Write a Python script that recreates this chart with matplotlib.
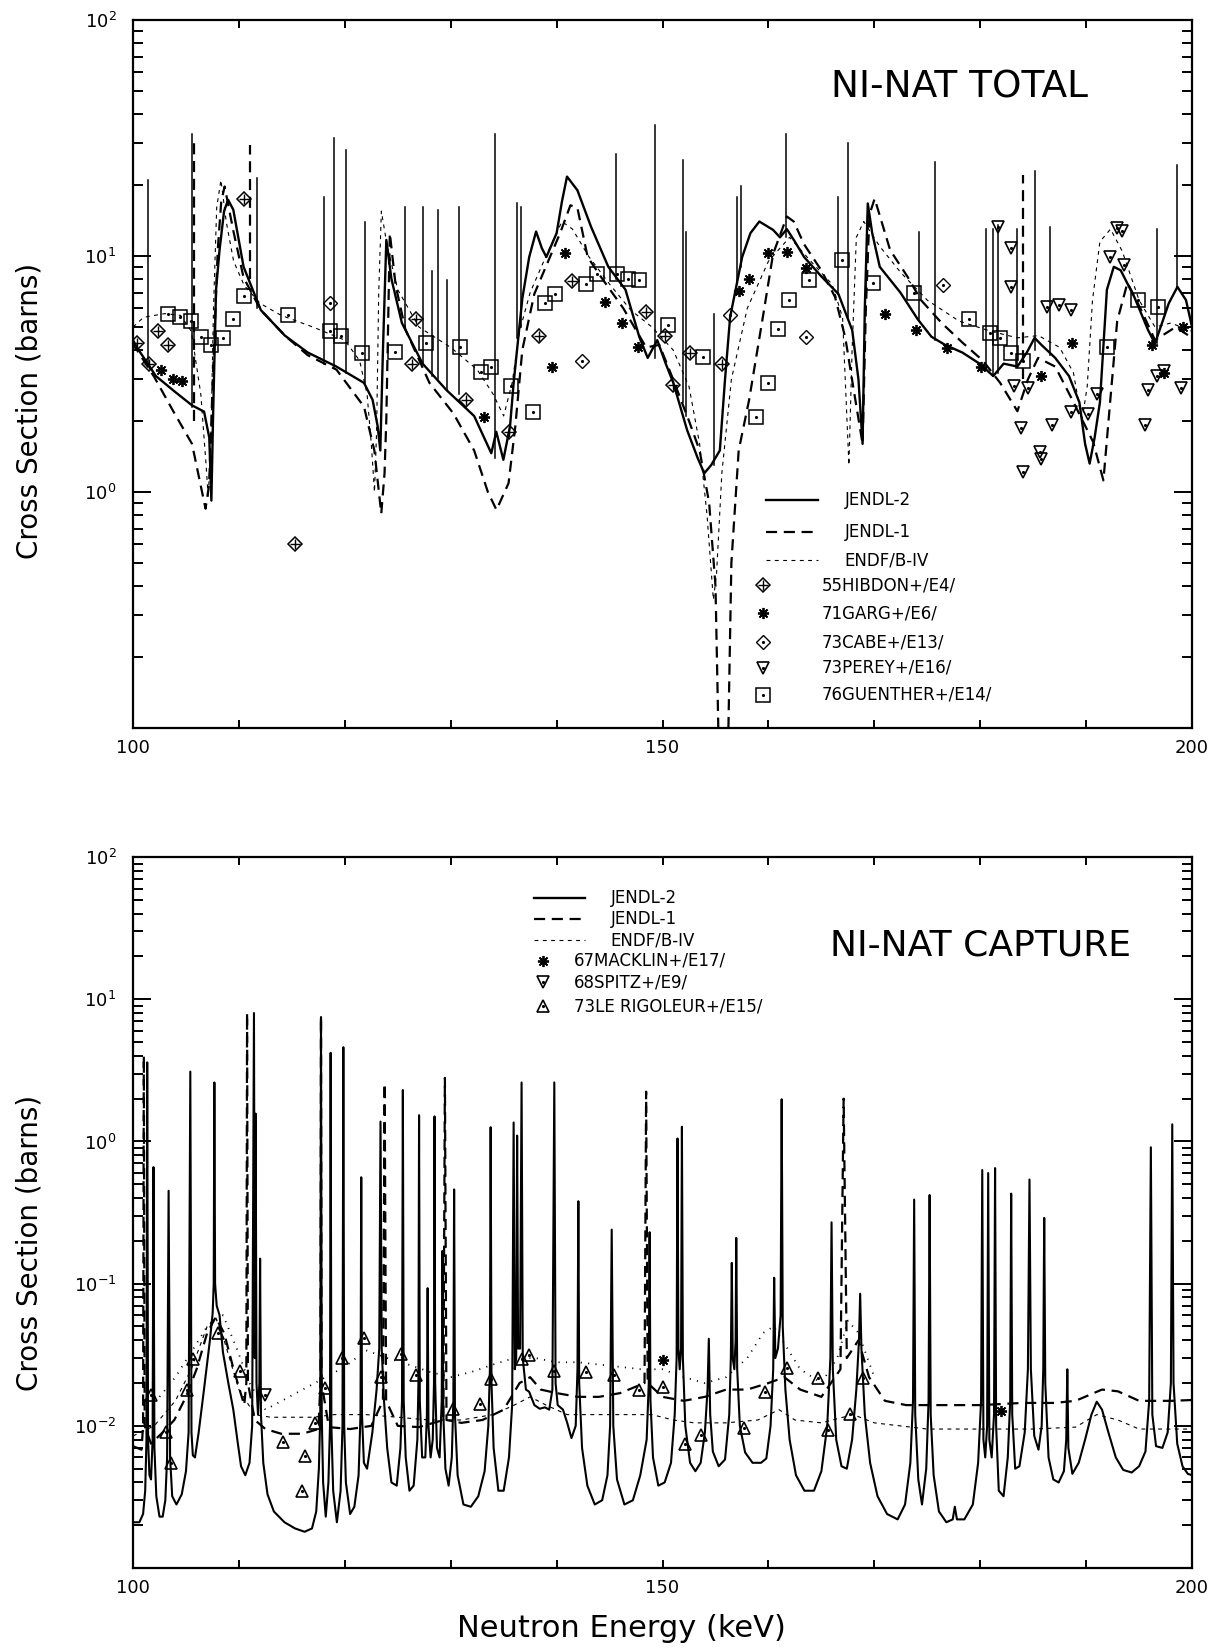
import matplotlib
matplotlib.use("Agg")
import matplotlib.pyplot as plt
import numpy as np
from matplotlib.ticker import FixedLocator, FuncFormatter, LogLocator, NullFormatter

plt.rcParams["font.family"] = ["DejaVu Sans"]

# ---------------- Ni-nat total cross section (barns) ----------------
total_jendl2 = [
    (100.0, 4.4), (100.37, 4.1), (102.16, 3.1), (104.0, 2.65), (105.57, 2.33), (106.71, 2.19),
    (107.2, 1.7), (107.4, 0.92), (107.55, 2.0), (107.84, 7.2), (108.17, 10.6), (108.6, 15.5),
    (108.98, 17.3), (109.47, 15.7), (110.44, 9.0), (112.07, 5.9), (114.34, 4.6), (116.5, 3.9),
    (119.21, 3.4), (121.81, 2.9), (122.62, 2.46), (123.1, 1.9), (123.35, 1.5), (123.6, 4.0),
    (123.92, 11.7), (124.4, 8.0), (125.39, 5.2), (127.34, 3.5), (129.61, 2.7), (132.21, 2.1),
    (133.83, 1.46), (134.3, 1.8), (134.97, 1.37), (135.6, 1.9), (135.94, 2.9), (136.76, 6.6),
    (137.41, 9.9), (138.06, 12.7), (138.6, 10.8), (139.03, 9.9), (140.0, 12.5), (140.5, 17.0),
    (140.98, 21.7), (141.96, 19.0), (143.25, 13.3), (144.88, 9.0), (146.5, 7.2), (147.8, 4.55),
    (148.6, 3.7), (149.5, 4.4), (150.3, 3.5), (151.02, 2.9), (152.32, 1.83), (153.3, 1.4),
    (153.94, 1.2), (154.59, 1.3), (155.41, 1.5), (155.9, 3.0), (156.38, 5.5), (157.03, 7.7),
    (157.52, 9.9), (158.3, 12.5), (159.14, 14.0), (160.44, 12.9), (161.09, 12.0), (161.74, 13.0),
    (162.5, 11.5), (163.37, 9.9), (164.99, 8.2), (166.61, 6.9), (167.91, 4.85), (168.5, 3.0),
    (168.89, 1.6), (169.1, 6.0), (169.38, 16.7), (169.8, 12.5), (170.51, 9.0), (172.46, 7.0),
    (174.09, 5.4), (175.39, 4.55), (176.69, 4.2), (178.31, 3.9), (179.93, 3.5), (181.23, 3.1),
    (182.21, 3.5), (183.51, 3.4), (184.4, 3.9), (185.13, 4.5), (185.78, 4.2), (187.08, 3.7),
    (188.38, 3.1), (189.36, 2.4), (189.9, 1.6), (190.33, 1.32), (190.8, 1.7), (191.3, 2.4),
    (191.96, 7.2), (192.61, 9.0), (193.26, 8.7), (194.55, 6.7), (195.85, 4.85), (196.5, 4.26),
    (197.8, 6.3), (198.62, 7.4), (199.43, 6.5), (200.0, 5.0),
]
# narrow JENDL-2 resonances: energy, foot, top
total_jendl2_spikes = [
    (101.4, 3.4, 21.0), (105.6, 2.3, 33.0), (111.7, 6.0, 21.4), (118.08, 3.5, 17.8),
    (118.95, 3.4, 31.6), (120.12, 3.2, 28.0), (121.91, 2.9, 14.0), (125.71, 4.9, 16.2),
    (127.4, 3.5, 16.2), (128.25, 3.1, 8.6), (128.8, 3.0, 15.7), (129.61, 2.7, 7.9),
    (130.75, 2.6, 16.2), (134.16, 1.4, 33.0), (136.27, 4.5, 16.7), (136.6, 5.0, 16.2),
    (145.6, 8.0, 27.0), (149.27, 3.7, 36.0), (151.9, 2.4, 25.5), (152.22, 2.1, 12.7),
    (154.85, 1.3, 5.7), (157.03, 7.7, 17.8), (157.45, 9.0, 19.8), (161.68, 12.0, 33.0),
    (166.55, 6.9, 17.8), (167.52, 5.5, 30.0), (174.25, 5.4, 12.7), (175.71, 4.4, 25.0),
    (180.58, 3.3, 13.0), (181.17, 3.1, 13.0), (181.72, 3.2, 13.5), (183.51, 3.4, 13.0),
    (185.13, 4.0, 23.0), (186.6, 3.8, 13.3), (196.67, 4.3, 13.0), (198.62, 7.4, 24.4),
]
total_jendl1 = [
    (100.0, 4.3), (100.37, 4.0), (101.99, 3.08), (103.8, 2.2), (105.57, 1.6), (106.54, 0.99),
    (106.85, 0.85), (107.19, 1.08), (107.52, 2.9), (108.0, 10.6), (108.33, 17.0), (108.65, 19.7),
    (109.47, 12.8), (110.44, 8.1), (112.07, 5.9), (114.34, 4.6), (116.5, 3.8), (119.21, 3.3),
    (121.81, 2.3), (122.79, 1.5), (123.44, 0.81), (123.75, 1.2), (123.92, 2.05), (124.25, 12.5),
    (124.8, 7.5), (125.71, 4.9), (127.99, 2.9), (130.26, 2.15), (132.21, 1.5), (133.51, 1.0),
    (134.32, 0.84), (135.46, 1.09), (136.1, 1.9), (136.76, 4.0), (137.89, 6.9), (139.2, 9.5),
    (140.33, 12.5), (141.3, 16.4), (141.96, 16.0), (142.93, 9.9), (144.23, 8.1), (146.3, 6.0),
    (148.45, 4.1), (149.7, 4.2), (151.0, 3.0), (152.5, 2.0), (153.5, 1.5), (154.4, 0.9),
    (155.0, 0.4), (155.4, 0.05), (156.1, 0.05), (156.5, 0.5), (157.19, 1.5), (158.17, 2.45),
    (159.47, 5.5), (160.44, 10.2), (161.74, 14.7), (162.39, 14.0), (163.37, 11.2), (164.99, 8.7),
    (166.29, 6.7), (167.26, 4.5), (168.0, 2.8), (168.89, 1.6), (169.2, 6.0), (169.54, 15.0),
    (170.03, 17.5), (171.49, 10.6), (173.11, 8.2), (174.41, 6.5), (176.36, 5.2), (178.31, 4.3),
    (180.26, 3.6), (181.88, 2.9), (183.51, 2.2), (184.5, 3.0), (185.46, 3.7), (187.08, 3.4),
    (188.71, 2.45), (190.66, 1.63), (191.63, 1.12), (192.28, 2.45), (192.93, 5.3), (193.9, 7.7),
    (195.2, 5.9), (196.5, 4.4), (198.45, 5.0), (200.0, 4.5),
]
total_jendl1_spikes = [(105.73, 2.0, 30.0), (111.09, 8.0, 29.5), (184.0, 3.0, 22.0)]
total_endf = [
    (100.0, 5.0), (101.0, 5.5), (103.0, 5.7), (104.5, 5.6), (105.5, 4.8), (106.4, 2.6),
    (106.9, 1.3), (107.1, 0.95), (107.35, 1.6), (107.6, 6.0), (107.9, 16.0), (108.3, 21.0),
    (108.8, 14.0), (109.5, 9.5), (110.5, 7.5), (112.0, 6.3), (114.0, 5.6), (117.0, 5.0),
    (120.0, 4.4), (121.4, 3.6), (122.1, 2.6), (122.5, 1.6), (122.8, 1.0), (123.0, 1.8),
    (123.2, 7.0), (123.45, 15.5), (124.0, 11.0), (125.0, 7.2), (127.0, 5.0), (130.0, 4.1),
    (132.5, 3.3), (134.0, 2.6), (135.0, 2.1), (135.8, 2.9), (136.5, 4.8), (137.5, 7.0),
    (139.0, 10.0), (140.5, 14.0), (141.5, 13.0), (143.0, 10.0), (145.0, 7.6), (147.0, 5.9),
    (149.0, 5.0), (151.0, 4.0), (152.5, 2.8), (153.5, 1.6), (154.2, 0.8), (154.8, 0.35),
    (155.1, 0.45), (155.6, 1.2), (156.5, 3.0), (158.0, 6.0), (160.0, 9.5), (162.0, 12.0),
    (164.0, 9.5), (166.0, 7.6), (167.0, 5.5), (167.6, 1.3), (167.9, 4.0), (168.3, 12.0),
    (169.0, 14.0), (170.5, 11.0), (172.5, 8.5), (175.0, 6.5), (178.0, 5.3), (181.0, 4.8),
    (183.5, 4.5), (185.5, 4.6), (187.5, 4.1), (188.8, 3.2), (189.6, 2.0), (190.1, 2.8),
    (190.6, 6.5), (191.3, 11.5), (192.3, 13.0), (193.4, 10.5), (195.0, 6.5), (196.5, 5.0),
    (198.0, 5.2), (200.0, 4.8),
]
hibdon55 = [
    (100.37, 4.3), (101.51, 3.5), (102.32, 4.8), (103.29, 4.2), (110.44, 17.4), (115.31, 0.6),
    (126.36, 3.5), (126.69, 5.4), (131.4, 2.45), (135.46, 1.8), (138.38, 4.6), (141.47, 7.8),
    (148.45, 5.8), (150.24, 4.6), (151.02, 2.84), (152.64, 3.9), (155.57, 3.5),
]
garg71 = [
    (102.64, 3.3), (103.78, 3.0), (104.59, 2.96), (133.18, 2.08), (139.52, 3.4), (140.82, 10.3),
    (144.55, 6.4), (146.18, 5.2), (147.64, 4.1), (157.19, 7.1), (158.17, 8.0), (159.95, 10.3),
    (161.74, 10.4), (163.53, 8.9), (171.0, 5.7), (173.92, 4.86), (176.85, 4.06), (180.1, 3.4),
    (185.78, 3.1), (188.71, 4.3), (196.18, 4.2), (197.32, 3.2), (199.1, 5.0),
]
cabe73 = [(118.6, 6.3), (142.44, 3.6), (156.38, 5.6), (163.53, 4.55), (176.52, 7.5)]
perey73 = [
    (181.72, 13.3), (182.86, 10.8), (182.86, 7.4), (183.18, 2.8), (184.48, 2.76), (183.83, 1.86),
    (184.0, 1.22), (185.62, 1.48), (185.78, 1.38), (186.76, 1.92), (186.27, 6.1), (187.41, 6.2),
    (188.54, 5.9), (188.54, 2.19), (190.17, 2.15), (190.98, 2.6), (192.28, 9.9), (192.93, 13.1),
    (193.42, 12.8), (193.58, 9.2), (195.53, 1.92), (195.85, 2.7), (196.67, 3.1), (197.32, 3.25),
    (198.94, 2.75),
]
guenther76 = [
    (103.29, 5.7), (104.43, 5.5), (105.5, 5.3), (106.38, 4.55), (107.35, 4.2), (108.49, 4.5),
    (109.47, 5.4), (110.44, 6.8), (114.66, 5.6), (118.56, 4.8), (119.6, 4.6), (121.65, 3.9),
    (124.74, 3.93), (127.66, 4.3), (130.91, 4.1), (132.86, 3.24), (133.83, 3.4), (135.72, 2.8),
    (137.73, 2.19), (138.87, 6.3), (139.84, 6.9), (142.77, 7.6), (143.84, 8.4), (145.69, 8.4),
    (146.76, 8.0), (147.8, 7.9), (150.56, 5.1), (153.78, 3.74), (158.82, 2.08), (159.95, 2.9),
    (160.93, 4.9), (161.9, 6.5), (163.85, 7.9), (166.94, 9.6), (169.86, 7.7), (173.76, 7.0),
    (178.96, 5.4), (180.91, 4.7), (181.88, 4.5), (182.86, 3.9), (184.0, 3.6), (191.96, 4.1),
    (194.88, 6.5), (196.83, 6.1),
]

# ---------------- Ni-nat capture cross section (barns) ----------------
capture_jendl2 = [
    (100.0, 0.0021), (100.6, 0.0021), (100.95, 0.0024), (101.15, 0.0035), (101.27, 0.008), (101.34, 3.6),
    (101.42, 0.008), (101.55, 0.0045), (101.7, 0.0042), (101.85, 0.008), (101.93, 0.66), (102.02, 0.007),
    (102.2, 0.0032), (102.5, 0.0023), (102.8, 0.0023), (103.05, 0.003), (103.22, 0.006), (103.36, 0.45),
    (103.5, 0.006), (103.7, 0.0032), (104.1, 0.0028), (104.6, 0.0033), (105.0, 0.0048), (105.25, 0.009),
    (105.41, 3.1), (105.52, 0.009), (105.65, 0.0062), (105.85, 0.006), (106.2, 0.009), (106.7, 0.018),
    (107.26, 0.04), (107.52, 0.062), (107.62, 0.1), (107.68, 2.6), (107.75, 0.1), (107.9, 0.07),
    (108.17, 0.06), (108.49, 0.033), (109.0, 0.02), (109.47, 0.013), (109.9, 0.0075), (110.2, 0.0052),
    (110.6, 0.0045), (111.0, 0.0055), (111.25, 0.01), (111.42, 8.0), (111.5, 0.03), (111.58, 1.57),
    (111.66, 0.02), (111.8, 0.012), (111.93, 0.02), (112.0, 0.15), (112.08, 0.012), (112.3, 0.0055),
    (112.7, 0.0033), (113.3, 0.0025), (114.3, 0.0021), (115.3, 0.0019), (116.2, 0.0018), (116.9, 0.0019),
    (117.3, 0.0025), (117.55, 0.005), (117.68, 0.012), (117.75, 7.5), (117.82, 0.012), (117.95, 0.004),
    (118.2, 0.0023), (118.45, 0.004), (118.6, 0.01), (118.66, 4.2), (118.73, 0.01), (118.9, 0.0035),
    (119.25, 0.0021), (119.6, 0.0035), (119.78, 0.01), (119.86, 4.6), (119.94, 0.01), (120.1, 0.004),
    (120.5, 0.0024), (120.9, 0.0027), (121.3, 0.0045), (121.48, 0.012), (121.55, 0.56), (121.62, 0.012),
    (121.8, 0.0055), (122.1, 0.005), (122.6, 0.009), (123.0, 0.018), (123.25, 0.035), (123.37, 1.38),
    (123.48, 0.035), (123.7, 0.015), (124.0, 0.007), (124.4, 0.004), (124.9, 0.0038), (125.25, 0.007),
    (125.4, 0.015), (125.48, 2.3), (125.56, 0.015), (125.75, 0.006), (126.1, 0.0035), (126.5, 0.0038),
    (126.85, 0.008), (126.95, 0.02), (127.01, 1.53), (127.08, 0.015), (127.3, 0.006), (127.6, 0.006),
    (127.75, 0.012), (127.82, 0.093), (127.9, 0.01), (128.1, 0.006), (128.3, 0.008), (128.42, 0.02),
    (128.47, 1.5), (128.53, 0.02), (128.7, 0.007), (128.95, 0.006), (129.15, 0.015), (129.22, 0.17),
    (129.3, 0.012), (129.5, 0.005), (129.8, 0.0038), (130.1, 0.006), (130.25, 0.015), (130.32, 0.46),
    (130.4, 0.012), (130.65, 0.0045), (131.2, 0.0028), (131.9, 0.0027), (132.6, 0.0032), (133.2, 0.0048),
    (133.55, 0.01), (133.7, 0.025), (133.77, 1.26), (133.85, 0.02), (134.05, 0.007), (134.5, 0.0035),
    (135.0, 0.0035), (135.5, 0.006), (135.8, 0.014), (135.94, 1.36), (136.05, 0.025), (136.18, 0.03),
    (136.27, 1.1), (136.36, 0.035), (136.55, 0.035), (136.69, 2.6), (136.8, 0.03), (137.1, 0.018),
    (137.4, 0.0174), (137.9, 0.014), (138.4, 0.0132), (138.9, 0.0135), (139.3, 0.013), (139.6, 0.018),
    (139.78, 2.6), (139.9, 0.02), (140.1, 0.014), (140.6, 0.013), (141.0, 0.0105), (141.4, 0.0082),
    (141.8, 0.01), (141.97, 0.025), (142.05, 0.38), (142.13, 0.02), (142.4, 0.007), (142.9, 0.0038),
    (143.6, 0.0028), (144.3, 0.003), (144.8, 0.0045), (145.05, 0.01), (145.2, 0.24), (145.35, 0.01),
    (145.7, 0.0042), (146.4, 0.0028), (147.2, 0.003), (147.9, 0.0045), (148.5, 0.008), (148.7, 0.02),
    (148.78, 0.23), (148.86, 0.015), (149.1, 0.006), (149.6, 0.0038), (150.2, 0.004), (150.8, 0.0055),
    (151.15, 0.012), (151.33, 0.03), (151.41, 1.05), (151.5, 0.035), (151.62, 0.025), (151.75, 0.035),
    (151.83, 1.27), (151.92, 0.03), (152.15, 0.01), (152.6, 0.0055), (153.1, 0.0048), (153.6, 0.0055),
    (154.0, 0.009), (154.25, 0.018), (154.37, 0.041), (154.5, 0.012), (154.75, 0.0066), (155.3, 0.0052),
    (155.9, 0.0058), (156.3, 0.012), (156.45, 0.03), (156.54, 0.14), (156.63, 0.03), (156.78, 0.025),
    (156.9, 0.04), (156.96, 0.21), (157.05, 0.025), (157.3, 0.01), (157.8, 0.0065), (158.5, 0.0055),
    (159.3, 0.0055), (159.8, 0.0059), (160.2, 0.01), (160.45, 0.025), (160.54, 0.11), (160.65, 0.03),
    (160.9, 0.035), (161.15, 0.06), (161.25, 1.98), (161.35, 0.05), (161.6, 0.018), (162.0, 0.008),
    (162.6, 0.0045), (163.4, 0.0035), (164.3, 0.0035), (165.0, 0.0048), (165.55, 0.01), (165.85, 0.03),
    (165.96, 0.27), (166.08, 0.025), (166.4, 0.008), (166.9, 0.0052), (167.4, 0.005), (167.9, 0.008),
    (168.3, 0.018), (168.55, 0.04), (168.66, 0.085), (168.78, 0.035), (169.1, 0.012), (169.6, 0.0055),
    (170.3, 0.0032), (171.2, 0.0024), (172.2, 0.0022), (172.9, 0.0028), (173.4, 0.0055), (173.65, 0.015),
    (173.76, 0.39), (173.86, 0.012), (174.15, 0.0042), (174.5, 0.0028), (174.9, 0.005), (175.12, 0.015),
    (175.22, 0.42), (175.32, 0.012), (175.6, 0.0045), (176.1, 0.0025), (176.8, 0.0021), (177.4, 0.0022),
    (177.6, 0.0027), (177.8, 0.0022), (178.5, 0.0022), (179.3, 0.0028), (179.8, 0.0055), (180.08, 0.015),
    (180.19, 0.63), (180.3, 0.008), (180.47, 0.006), (180.65, 0.01), (180.75, 0.6), (180.86, 0.008),
    (181.08, 0.006), (181.3, 0.012), (181.4, 0.65), (181.5, 0.01), (181.75, 0.0035), (182.2, 0.0032),
    (182.6, 0.006), (182.83, 0.015), (182.92, 0.43), (183.02, 0.012), (183.3, 0.005), (183.7, 0.0052),
    (184.2, 0.009), (184.5, 0.025), (184.65, 0.54), (184.78, 0.025), (185.1, 0.0085), (185.5, 0.0068),
    (185.8, 0.01), (185.95, 0.025), (186.04, 0.29), (186.14, 0.02), (186.45, 0.006), (186.9, 0.0042),
    (187.4, 0.004), (187.9, 0.0048), (188.12, 0.008), (188.22, 0.025), (188.32, 0.007), (188.7, 0.0046),
    (189.3, 0.0055), (189.9, 0.008), (190.5, 0.012), (191.0, 0.0148), (191.5, 0.013), (192.1, 0.009),
    (192.8, 0.006), (193.5, 0.0049), (194.3, 0.0047), (195.0, 0.0052), (195.6, 0.0066), (195.95, 0.015),
    (196.11, 0.91), (196.25, 0.012), (196.6, 0.0072), (197.2, 0.007), (197.7, 0.009), (198.0, 0.02),
    (198.13, 1.32), (198.25, 0.02), (198.6, 0.0075), (199.1, 0.0052), (199.6, 0.0046), (200.0, 0.0045),
]
capture_jendl1 = [
    (100.0, 0.0072), (100.8, 0.0068), (100.95, 0.01), (101.02, 4.0), (101.1, 0.01), (101.7, 0.0075),
    (102.8, 0.009), (103.9, 0.011), (105.0, 0.016), (106.0, 0.025), (107.0, 0.045), (107.8, 0.058),
    (108.6, 0.045), (109.5, 0.025), (110.5, 0.014), (110.7, 0.02), (110.77, 8.0), (110.85, 0.02),
    (111.5, 0.011), (112.5, 0.0095), (114.0, 0.0088), (116.0, 0.0088), (117.5, 0.0095), (117.7, 0.02),
    (117.75, 7.5), (117.8, 0.02), (118.5, 0.0098), (120.5, 0.0095), (122.5, 0.01), (123.6, 0.015),
    (123.76, 2.56), (123.9, 0.015), (125.0, 0.01), (127.0, 0.0098), (129.3, 0.011), (129.45, 2.8),
    (129.6, 0.011), (131.0, 0.0105), (133.0, 0.011), (135.0, 0.013), (136.5, 0.02), (137.5, 0.022),
    (138.5, 0.018), (140.0, 0.017), (142.0, 0.016), (144.0, 0.016), (146.0, 0.017), (148.3, 0.02),
    (148.45, 2.24), (148.6, 0.02), (150.0, 0.016), (152.0, 0.015), (154.0, 0.016), (156.0, 0.018),
    (158.0, 0.018), (160.0, 0.02), (161.5, 0.022), (163.0, 0.018), (165.0, 0.016), (166.8, 0.025),
    (167.1, 2.0), (167.4, 0.03), (168.5, 0.04), (169.5, 0.022), (171.0, 0.015), (173.0, 0.014),
    (176.0, 0.014), (180.0, 0.014), (184.0, 0.0145), (187.0, 0.0145), (189.0, 0.015), (191.5, 0.018),
    (193.0, 0.0175), (195.0, 0.015), (198.0, 0.015), (200.0, 0.0152),
]
capture_endf = [
    (100.0, 0.0085), (102.0, 0.01), (104.0, 0.015), (105.5, 0.025), (107.0, 0.05), (107.8, 0.058),
    (108.6, 0.04), (110.0, 0.018), (111.5, 0.012), (113.0, 0.0115), (117.0, 0.0115), (119.0, 0.012),
    (122.0, 0.012), (125.0, 0.0115), (128.0, 0.011), (131.0, 0.011), (134.0, 0.012), (136.0, 0.014),
    (137.5, 0.016), (139.0, 0.014), (141.0, 0.012), (145.0, 0.012), (149.0, 0.012), (151.0, 0.011),
    (153.0, 0.0105), (156.0, 0.0105), (159.0, 0.011), (161.0, 0.013), (162.5, 0.011), (165.0, 0.0105),
    (168.0, 0.012), (170.0, 0.0105), (175.0, 0.0095), (180.0, 0.0095), (185.0, 0.0095), (189.0, 0.0098),
    (191.0, 0.012), (193.0, 0.011), (195.0, 0.0095), (200.0, 0.0095),
]
# finely dotted trace running above the evaluations
capture_dotted = [
    (102.5, 0.016), (104.0, 0.022), (105.5, 0.033), (107.0, 0.05), (108.5, 0.06), (109.8, 0.035),
    (111.0, 0.02), (112.5, 0.013), (120.0, 0.026), (122.0, 0.034), (124.0, 0.03), (126.0, 0.027),
    (128.0, 0.024), (130.0, 0.022), (132.0, 0.024), (134.0, 0.027), (136.0, 0.03), (138.0, 0.03),
    (140.0, 0.028), (142.0, 0.028), (144.0, 0.027), (146.0, 0.026), (148.0, 0.025), (150.0, 0.025),
    (152.0, 0.022), (154.0, 0.02), (156.0, 0.022), (158.0, 0.03), (159.5, 0.045), (160.5, 0.05),
    (161.5, 0.038), (163.0, 0.025), (165.0, 0.02), (166.5, 0.03), (167.5, 0.055), (168.5, 0.045),
    (170.0, 0.022),
]
macklin67 = [(150.06, 0.029), (182.0, 0.0127)]
spitz68 = [(112.5, 0.0164)]
lerigoleur73 = [
    (101.67, 0.0164), (103.13, 0.009), (103.62, 0.0055), (105.08, 0.0179), (105.63, 0.0293),
    (108.0, 0.045), (110.12, 0.0244), (114.18, 0.0077), (116.0, 0.0035), (116.22, 0.0061),
    (117.2, 0.0104), (118.17, 0.0184), (119.7, 0.0298), (121.81, 0.0412), (123.44, 0.0221),
    (125.32, 0.0318), (126.68, 0.0228), (130.26, 0.0131), (132.79, 0.0142), (133.77, 0.0212),
    (136.76, 0.0295), (137.41, 0.0315), (139.78, 0.0243), (142.77, 0.024), (145.37, 0.0228),
    (147.74, 0.018), (150.08, 0.0188), (152.16, 0.0075), (153.62, 0.0086), (157.68, 0.0096),
    (159.63, 0.0174), (161.74, 0.0254), (164.66, 0.0216), (165.64, 0.0093), (167.69, 0.0122),
    (168.89, 0.0216),
]

x_major = [100, 150, 200]
x_minor = [110, 120, 130, 140, 160, 170, 180, 190]

fig = plt.figure(figsize=(12.17, 16.52), dpi=100)
ax1 = fig.add_axes([0.1093, 0.5593, 0.8702, 0.4286])
ax2 = fig.add_axes([0.1093, 0.0508, 0.8702, 0.4304])

S_J2 = dict(color="black", lw=1.7, ls="-")
S_J1 = dict(color="black", lw=1.6, ls=(0, (5.0, 3.0)))
S_EN = dict(color="black", lw=0.8, ls=(0, (3.5, 4.0)))
S_DOT = dict(color="black", lw=1.3, ls=(0, (0.6, 3.5)))


def xy(pairs):
    a = np.array(pairs, dtype=float)
    return a[:, 0], a[:, 1]


def draw_spikes(ax, spikes, style):
    for e, lo, hi in spikes:
        ax.plot([e, e], [lo, hi], **style)


def marker_layers(kind, size):
    """Matplotlib marker layers that build each experimental symbol."""
    dot = dict(marker=".", ms=2.5, color="k")
    if kind == "hibdon":
        return [dict(marker="D", ms=size, mfc="none", mec="k", mew=1.1),
                dict(marker="+", ms=size, mec="k", mew=1.0)]
    if kind == "star":
        return [dict(marker=(8, 2, 0), ms=size + 1, mec="k", mew=1.3)]
    if kind == "cabe":
        return [dict(marker="D", ms=size, mfc="none", mec="k", mew=1.0), dot]
    if kind == "down":
        return [dict(marker="v", ms=size + 1, mfc="none", mec="k", mew=1.2), dot]
    if kind == "up":
        return [dict(marker="^", ms=size + 1, mfc="none", mec="k", mew=1.2), dot]
    return [dict(marker="s", ms=size + 3, mfc="none", mec="k", mew=1.1), dot]


def draw_points(ax, pairs, kind, size=7):
    e, s = xy(pairs)
    for layer in marker_layers(kind, size):
        ax.plot(e, s, ls="none", **layer)


def legend_marker(ax, x, y, kind, size=7):
    for layer in marker_layers(kind, size):
        ax.plot([x], [y], ls="none", transform=ax.transAxes, clip_on=False, **layer)


def legend_line(ax, x0, x1, y, style):
    ax.plot([x0, x1], [y, y], transform=ax.transAxes, clip_on=False, **style)


def style_axes(ax, ymin, ymax, labelled):
    ax.set_yscale("log")
    ax.set_xlim(100, 200)
    ax.set_ylim(ymin, ymax)
    ax.xaxis.set_major_locator(FixedLocator(x_major))
    ax.xaxis.set_minor_locator(FixedLocator(x_minor))
    ax.xaxis.set_minor_formatter(NullFormatter())
    ax.xaxis.set_major_formatter(FuncFormatter(lambda v, p: "%d" % v))
    decades = [10.0 ** k for k in range(int(np.log10(ymin)), int(np.log10(ymax)) + 1)]
    ax.yaxis.set_major_locator(FixedLocator(decades))
    ax.yaxis.set_major_formatter(FuncFormatter(
        lambda v, p: (r"$10^{%d}$" % round(np.log10(v))) if round(np.log10(v)) in labelled else ""))
    ax.yaxis.set_minor_locator(LogLocator(base=10, subs=np.arange(2, 10), numticks=20))
    ax.yaxis.set_minor_formatter(NullFormatter())
    ax.tick_params(which="both", direction="in", top=True, right=True, width=1.4)
    ax.tick_params(axis="x", which="both", length=6, labelsize=13, pad=8)
    ax.tick_params(axis="y", which="major", length=13, labelsize=13, pad=12)
    ax.tick_params(axis="y", which="minor", length=7)
    for sp in ax.spines.values():
        sp.set_linewidth(1.6)


# ---------------- upper panel: total ----------------
style_axes(ax1, 0.1, 100, labelled=(0, 1, 2))
ax1.plot(*xy(total_endf), **S_EN)
ax1.plot(*xy(total_jendl1), **S_J1)
draw_spikes(ax1, total_jendl1_spikes, S_J1)
ax1.plot(*xy(total_jendl2), **S_J2)
draw_spikes(ax1, total_jendl2_spikes, dict(color="black", lw=1.1))
draw_points(ax1, hibdon55, "hibdon")
draw_points(ax1, garg71, "star")
draw_points(ax1, cabe73, "cabe")
draw_points(ax1, perey73, "down")
draw_points(ax1, guenther76, "square")

ax1.text(0.78, 0.904, "NI-NAT TOTAL", transform=ax1.transAxes, ha="center", va="center",
         fontsize=27)
rows = [0.322, 0.277, 0.237]
for y, st, lab in zip(rows, [S_J2, S_J1, S_EN], ["JENDL-2", "JENDL-1", "ENDF/B-IV"]):
    legend_line(ax1, 0.598, 0.647, y, st)
    ax1.text(0.672, y, lab, transform=ax1.transAxes, va="center", fontsize=12)
mrows = [0.202, 0.162, 0.121, 0.085, 0.047]
for y, kind, lab in zip(mrows, ["hibdon", "star", "cabe", "down", "square"],
                        ["55HIBDON+/E4/", "71GARG+/E6/", "73CABE+/E13/", "73PEREY+/E16/",
                         "76GUENTHER+/E14/"]):
    legend_marker(ax1, 0.595, y, kind)
    ax1.text(0.650, y, lab, transform=ax1.transAxes, va="center", fontsize=12)

# ---------------- lower panel: capture ----------------
style_axes(ax2, 0.001, 100, labelled=(-2, -1, 0, 1, 2))
ax2.plot(*xy(capture_dotted), **S_DOT)
ax2.plot(*xy(capture_endf), **S_EN)
ax2.plot(*xy(capture_jendl1), **S_J1)
ax2.plot(*xy(capture_jendl2), color="black", lw=1.5)
draw_points(ax2, macklin67, "star")
draw_points(ax2, spitz68, "down")
draw_points(ax2, lerigoleur73, "up")

ax2.text(0.80, 0.875, "NI-NAT CAPTURE", transform=ax2.transAxes, ha="center", va="center",
         fontsize=26)
rows2 = [0.942, 0.913, 0.883]
for y, st, lab in zip(rows2, [S_J2, S_J1, S_EN], ["JENDL-2", "JENDL-1", "ENDF/B-IV"]):
    legend_line(ax2, 0.379, 0.427, y, st)
    ax2.text(0.451, y, lab, transform=ax2.transAxes, va="center", fontsize=12)
mrows2 = [0.854, 0.824, 0.790]
for y, kind, lab in zip(mrows2, ["star", "down", "up"],
                        ["67MACKLIN+/E17/", "68SPITZ+/E9/", "73LE RIGOLEUR+/E15/"]):
    legend_marker(ax2, 0.387, y, kind)
    ax2.text(0.416, y, lab, transform=ax2.transAxes, va="center", fontsize=12)

fig.text(0.0246, 0.751, "Cross Section (barns)", rotation=90, ha="center", va="center",
         fontsize=20)
fig.text(0.0246, 0.2475, "Cross Section (barns)", rotation=90, ha="center", va="center",
         fontsize=20)
fig.text(0.511, 0.0145, "Neutron Energy (keV)", ha="center", va="center", fontsize=22)

fig.savefig("out.png", dpi=100)
